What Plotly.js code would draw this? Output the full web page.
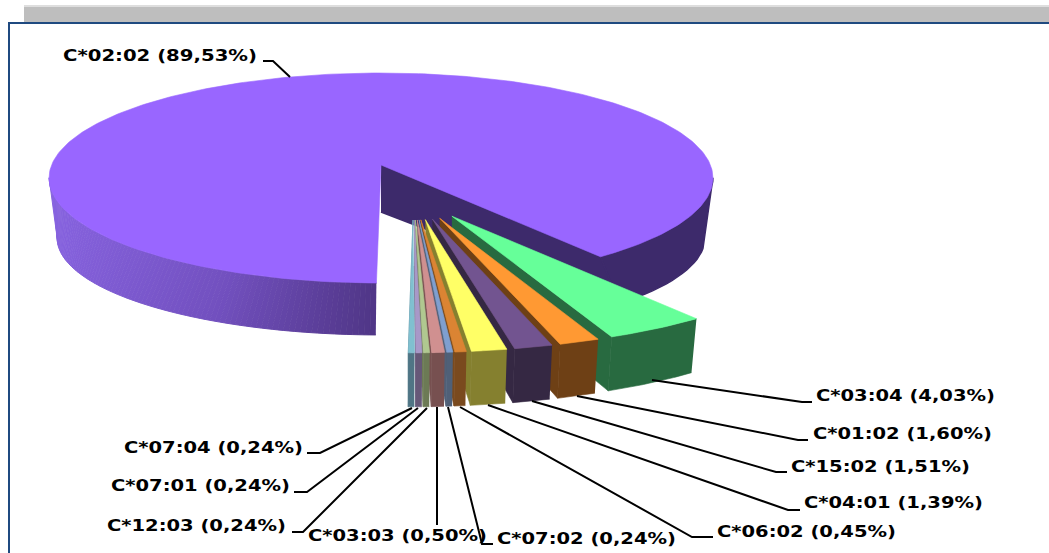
<!DOCTYPE html>
<html><head><meta charset="utf-8">
<script src="https://cdn.plot.ly/plotly-3.0.1.min.js"></script>
<style>html,body{margin:0;padding:0;background:#fff}#c{width:1049px;height:553px}</style>
</head><body><div id="c"></div>
<script>
// --- data, in clockwise order after the main slice ---
const alleles = ['C*02:02','C*03:04','C*01:02','C*15:02','C*04:01','C*06:02','C*07:02','C*03:03','C*12:03','C*07:01','C*07:04'];
const shares  = [89.53,4.03,1.60,1.51,1.39,0.45,0.24,0.50,0.24,0.24,0.24];
// --- styles ---
const topColors  = ['#9966ff','#66ff99','#ff9933','#725490','#ffff66','#db8433','#7f9fd0','#d09090','#b0c890','#a898c8','#80c0d0'];
const wallColors = ['#3d2a6b','#286a40','#6e4015','#352843','#85802f','#7a4a1e','#4f6078','#775050','#6c7a55','#665878','#4f7585'];
// --- label layout in pixel coordinates of the picture ---
const labelX = [63,816,813,791,804,717,497,308,107,111,124];
const labelY = [57,397,435,468,504,533,540,537,527,487,449];
const labelW = [194,179,179,179,179,179,179,179,179,179,179];
const leaderX = [[263,273,290],[652,802,812],[577,798,808],[532,776,787],[488,788,800],[460,692,713],[448,482,493],[437,437],[427,303,292],[418,307,294],[412,320,307]];
const leaderY = [[61,61,77],[380,402,402],[396,440,440],[401,472,472],[405,510,510],[407,537,537],[407,544,544],[407,525],[408,532,532],[408,492,492],[408,453,453]];

// --- projection of the tilted disc on to the picture ---
const cx=381, cy=165, K=329.4, Ky=103.4, C=0.1238;            // top face
const cyB=212, KB=312, KyB=90, CB=0.268;                       // bottom face
const rad=a=>a*Math.PI/180;
function rim(deg){const u=Math.sin(rad(deg)),v=-Math.cos(rad(deg)),w=1-C*v;return {x:K*u/w,y:Ky*v/w};}
function rimB(deg){const u=Math.sin(rad(deg)),v=-Math.cos(rad(deg)),w=1-CB*v;return {x:KB*u/w,y:KyB*v/w};}
function range(a,b,step){const o=[];const n=Math.max(2,Math.ceil(Math.abs(b-a)/step)+1);for(let i=0;i<n;i++)o.push(a+(b-a)*i/(n-1));return o;}
const total=shares.reduce((s,v)=>s+v,0);
const traces=[];
function poly(xs,ys,color,w){traces.push({type:'scatter',mode:'lines',x:xs,y:ys,fill:'toself',fillcolor:color,line:{color:color,width:w===undefined?0.6:w},hoverinfo:'skip',showlegend:false});}
function mix(a,b,t){const p=h=>[1,3,5].map(i=>parseInt(h.substr(i,2),16));const A=p(a),B=p(b);return 'rgb('+A.map((v,i)=>Math.round(v+(B[i]-v)*t)).join(',')+')';}

// main slice: clockwise from its start through the back to the end of its share
const span=shares[0]/total*360, rot=0.7, bigStart=180+rot, bigEnd=bigStart+span;
function bigPt(a){const r=rim(a),b=rimB(a);return {tx:cx+r.x,ty:cy+r.y,bx:cx+b.x,by:cyB+b.y};}
// outer wall, right dark part: between the end of the share and the two silhouette points
{
  const T=range(bigEnd,360+97,2).map(bigPt), B=range(360+105.5,bigEnd,2).map(bigPt);
  poly(T.map(p=>p.tx).concat(B.map(p=>p.bx)),T.map(p=>p.ty).concat(B.map(p=>p.by)),wallColors[0],1.5);
}
// inner cut wall
{
  const e=bigPt(bigEnd);
  poly([cx,e.tx,e.bx,cx],[cy,e.ty,e.by,cyB],wallColors[0],1.5);
}
// outer wall, lit left part in narrow strips shaded by horizontal position
const lit=['#4f3585','#7250bf','#8763e0'];
{
  const T=range(254.5,263,1).map(bigPt), b=bigPt(254.5);
  poly(T.map(p=>p.tx).concat([b.bx]),T.map(p=>p.ty).concat([b.by]),lit[2],1);
  const A=range(bigStart,254.5,0.8);
  for(let i=A.length-2;i>=0;i--){
    const a=bigPt(A[i]),c=bigPt(A[i+1]);
    const s=Math.min(1,Math.max(0,(378-(a.tx+c.tx)/2)/328));
    const col=s<0.45?mix(lit[0],lit[1],s/0.45):mix(lit[1],lit[2],(s-0.45)/0.55);
    poly([a.tx,c.tx,c.bx,a.bx],[a.ty,c.ty,c.by,a.by],col,1);
  }
}
// top face
{
  const A=range(bigStart,bigEnd,1).map(bigPt);
  poly([cx].concat(A.map(p=>p.tx),[cx]),[cy].concat(A.map(p=>p.ty),[cy]),topColors[0]);
}
// exploded small slices, painted from right to left
const tipX=412.4, tipY=195, tipScale=0.212, anchorX=412.3, anchorY=192.3, anchorScale=0.235, rimScale=1.1, shiftX=-4.7, shiftY=3, height=54;
let ang=bigEnd-360-rot;
for(let i=1;i<shares.length;i++){
  const a0=ang, a1=ang+shares[i]/total*360; ang=a1;
  const m=rim((a0+a1)/2), ax=tipX+tipScale*m.x, ay=tipY+tipScale*m.y, nx=anchorX+anchorScale*m.x, ny=anchorY+anchorScale*m.y;
  const pts=range(a0,a1,0.5).map(a=>{const r=rim(a);const x=nx+rimScale*r.x+shiftX,y=ny+rimScale*r.y+shiftY;return {x,y,bx:x-Math.max(0,(x-408))/288*5,by:y+height};});
  const L=pts[pts.length-1];
  poly([ax,L.x,L.bx,ax],[ay,L.y,L.by,ay+46],wallColors[i]);
  poly(pts.map(p=>p.x).concat(pts.slice().reverse().map(p=>p.bx)),pts.map(p=>p.y).concat(pts.slice().reverse().map(p=>p.by)),wallColors[i]);
  poly([ax].concat(pts.map(p=>p.x),[ax]),[ay].concat(pts.map(p=>p.y),[ay]),topColors[i]);
}
// leader lines
alleles.forEach((n,i)=>traces.push({type:'scatter',mode:'lines',x:leaderX[i],y:leaderY[i],line:{color:'#000',width:2},hoverinfo:'skip',showlegend:false}));
// labels
traces.push({type:'scatter',mode:'text',x:labelX,y:labelY,
  text:alleles.map((n,i)=>n+' ('+shares[i].toFixed(2).replace('.',',')+'%)'),
  textposition:'middle right',cliponaxis:false,
  textfont:{family:'"DejaVu Sans",Verdana,sans-serif',size:15,color:'#000',weight:700},
  hoverinfo:'skip',showlegend:false});

const layout={width:1049,height:553,margin:{l:0,r:0,t:0,b:0},paper_bgcolor:'#fff',plot_bgcolor:'#fff',showlegend:false,
  xaxis:{range:[0,1049],visible:false,fixedrange:true},
  yaxis:{range:[553,0],visible:false,fixedrange:true},
  shapes:[
    {type:'rect',xref:'x',yref:'y',x0:24,x1:1049,y0:5,y1:22,fillcolor:'#bebebe',line:{width:0},layer:'below'},
    {type:'rect',xref:'x',yref:'y',x0:24,x1:1049,y0:5,y1:7,fillcolor:'#dedede',line:{width:0},layer:'below'},
    {type:'rect',xref:'x',yref:'y',x0:8,x1:1049,y0:22,y1:24,fillcolor:'#1f4a80',line:{width:0},layer:'below'},
    {type:'rect',xref:'x',yref:'y',x0:8,x1:10,y0:22,y1:553,fillcolor:'#1f4a80',line:{width:0},layer:'below'}
  ]};
Plotly.newPlot('c',traces,layout,{displayModeBar:false,staticPlot:true}).then(gd=>{
  // the reference's labels are stretched horizontally
  gd.querySelectorAll('.textpoint text').forEach((t,i)=>{
    t.setAttribute('textLength',labelW[i]);
    t.setAttribute('lengthAdjust','spacingAndGlyphs');
  });
});
</script></body></html>
